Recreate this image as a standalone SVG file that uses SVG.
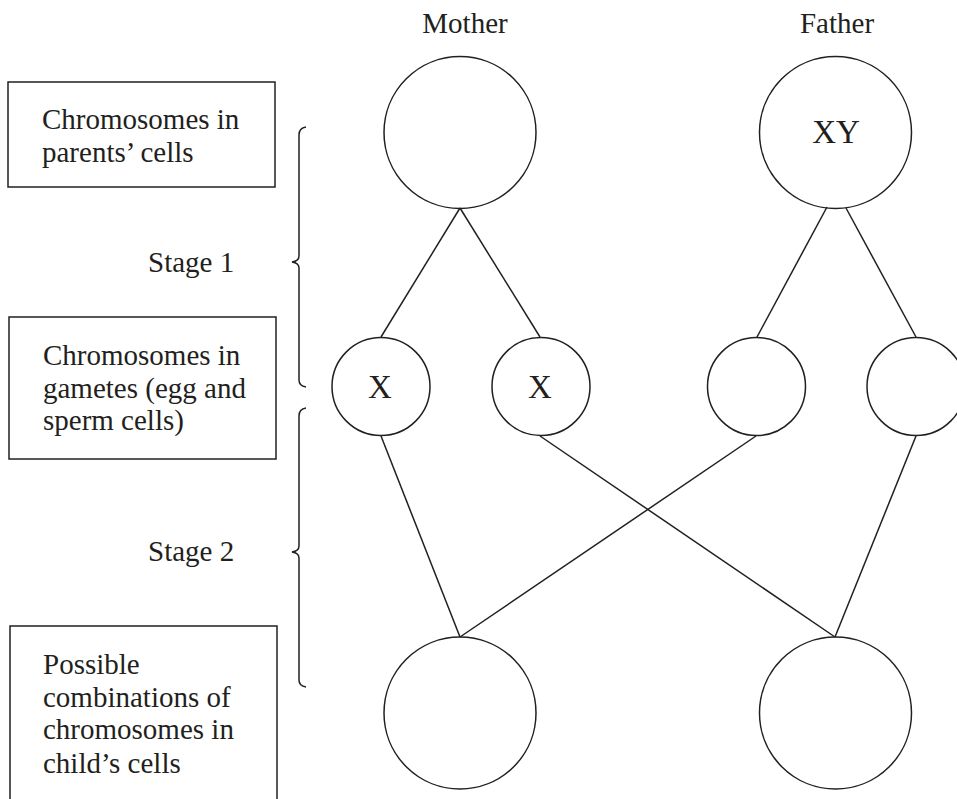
<svg xmlns="http://www.w3.org/2000/svg" width="957" height="799" viewBox="0 0 957 799">
<style>
.s{fill:none;stroke:#231f20;stroke-width:1.5}
.t{font-family:"Liberation Serif","Times New Roman",serif;font-size:29px;fill:#231f20}
.c{text-anchor:middle}
.big{font-size:33px}
</style>
<rect width="957" height="799" fill="#fff"/>
<g id="labels">
<text class="t c" x="465" y="33">Mother</text>
<text class="t c" x="837" y="33">Father</text>
<text class="t" x="148" y="272">Stage 1</text>
<text class="t" x="148" y="561">Stage 2</text>
</g>
<g id="box-parents">
<rect class="s" x="8" y="82" width="267" height="105"/>
<text class="t" x="42" y="129">Chromosomes in</text>
<text class="t" x="42" y="162">parents’ cells</text>
</g>
<g id="box-gametes">
<rect class="s" x="9" y="317" width="267" height="142"/>
<text class="t" x="43" y="365">Chromosomes in</text>
<text class="t" x="43" y="398">gametes (egg and</text>
<text class="t" x="43" y="430">sperm cells)</text>
</g>
<g id="box-child">
<rect class="s" x="10" y="626" width="267" height="190"/>
<text class="t" x="43" y="674">Possible</text>
<text class="t" x="43" y="707">combinations of</text>
<text class="t" x="43" y="739">chromosomes in</text>
<text class="t" x="43" y="773">child’s cells</text>
</g>
<g id="braces">
<path class="s" d="M306,127 Q299,128 299,135 L299,256 Q299,261 292,262 Q299,263 299,268 L299,380 Q299,386 306,387"/>
<path class="s" d="M306,408 Q299,409 299,416 L299,546 Q299,551 292,552 Q299,553 299,558 L299,680 Q299,686 306,687"/>
</g>
<g id="connectors">
<line class="s" x1="460" y1="208" x2="381" y2="337"/>
<line class="s" x1="460" y1="208" x2="540" y2="337"/>
<line class="s" x1="827" y1="207" x2="757" y2="337"/>
<line class="s" x1="846" y1="208" x2="916" y2="337"/>
<line class="s" x1="381" y1="436" x2="460" y2="637"/>
<line class="s" x1="540" y1="436" x2="835" y2="637"/>
<line class="s" x1="756" y1="436" x2="460" y2="637"/>
<line class="s" x1="916" y1="436" x2="835" y2="637"/>
</g>
<g id="mother"><circle class="s" cx="460" cy="132.5" r="76"/></g>
<g id="father"><circle class="s" cx="835.5" cy="132.5" r="76"/><text class="t c big" x="836" y="143">XY</text></g>
<g id="egg1"><circle class="s" cx="381" cy="386.5" r="49"/><text class="t c big" x="380" y="398">X</text></g>
<g id="egg2"><circle class="s" cx="541" cy="386.5" r="49"/><text class="t c big" x="540" y="398">X</text></g>
<g id="sperm1"><circle class="s" cx="756.5" cy="386.5" r="49"/></g>
<g id="sperm2"><circle class="s" cx="916" cy="386.5" r="49"/></g>
<g id="child1"><circle class="s" cx="460" cy="713" r="76"/></g>
<g id="child2"><circle class="s" cx="835.5" cy="713" r="76"/></g>
</svg>
